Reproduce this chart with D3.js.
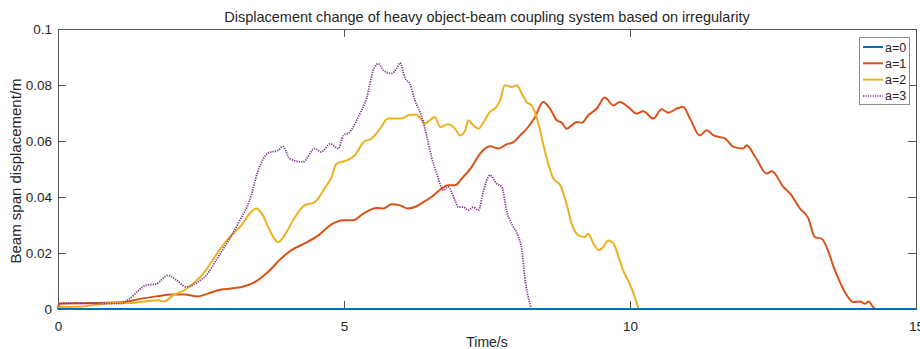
<!DOCTYPE html>
<html>
<head>
<meta charset="utf-8">
<script src="https://cdn.jsdelivr.net/npm/d3@7"></script>
<style>
  body { margin: 0; background: #fff; }
  text { font-family: "Liberation Sans", Arial, sans-serif; fill: #262626; }
</style>
</head>
<body>
<div id="chart"></div>
<script>
// series: [time (s), displacement (m)]
var a0 = [[0, 0], [15, 0]];

var a1 = [[0,0],[0.02,0.0019],[0.58,0.0021],[1.17,0.0025],[1.46,0.0037],[1.75,0.0046],[1.98,0.0052],[2.21,0.0052],
  [2.45,0.0045],[2.62,0.0055],[2.8,0.0067],[3.03,0.0073],[3.26,0.0081],[3.44,0.0096],[3.67,0.0132],[3.9,0.018],
  [4.08,0.021],[4.31,0.0234],[4.55,0.0263],[4.78,0.0302],[4.99,0.0317],[5.16,0.0317],[5.34,0.0341],[5.57,0.0361],
  [5.69,0.0359],[5.83,0.0374],[5.98,0.037],[6.12,0.0359],[6.27,0.0367],[6.39,0.0382],[6.53,0.04],[6.68,0.0426],
  [6.82,0.0442],[6.94,0.0442],[7.06,0.0466],[7.23,0.0507],[7.38,0.0555],[7.55,0.0581],[7.7,0.0573],[7.84,0.0588],
  [7.96,0.0596],[8.08,0.062],[8.22,0.065],[8.34,0.0686],[8.48,0.0739],[8.6,0.0716],[8.72,0.0674],[8.81,0.0665],
  [8.89,0.0644],[8.98,0.0656],[9.07,0.0668],[9.16,0.0665],[9.27,0.0692],[9.42,0.0716],[9.56,0.0755],[9.71,0.0727],
  [9.82,0.0739],[9.97,0.0721],[10.12,0.0698],[10.23,0.0706],[10.41,0.068],[10.55,0.0713],[10.67,0.0701],[10.82,0.0716],
  [10.93,0.0721],[11.05,0.068],[11.22,0.062],[11.34,0.0638],[11.46,0.062],[11.66,0.0609],[11.81,0.0579],[11.98,0.0573],
  [12.04,0.0585],[12.19,0.0543],[12.39,0.0484],[12.48,0.0492],[12.68,0.0436],[12.8,0.0412],[12.97,0.0359],[13.12,0.0323],
  [13.23,0.0257],[13.35,0.0251],[13.47,0.0204],[13.55,0.0156],[13.67,0.0096],[13.79,0.0049],[13.9,0.0025],[14.02,0.0027],
  [14.11,0.0019],[14.17,0.0027],[14.25,0.0007],[14.28,0]];

var a2 = [[0,0.0007],[0.35,0.0008],[0.7,0.0016],[0.99,0.0021],[1.22,0.0021],[1.52,0.0027],[1.75,0.0031],[1.86,0.0027],
  [2.01,0.0049],[2.21,0.0067],[2.39,0.0096],[2.56,0.0132],[2.74,0.0186],[2.91,0.0234],[3.09,0.0275],[3.23,0.0305],
  [3.35,0.0341],[3.47,0.0359],[3.58,0.0335],[3.7,0.0281],[3.85,0.0239],[3.96,0.0263],[4.11,0.0317],[4.31,0.037],
  [4.49,0.0382],[4.66,0.043],[4.78,0.047],[4.87,0.0519],[5.05,0.0531],[5.19,0.0549],[5.34,0.0596],[5.48,0.0609],
  [5.63,0.0644],[5.77,0.068],[5.92,0.068],[6.01,0.068],[6.15,0.0694],[6.27,0.0694],[6.42,0.0662],[6.5,0.0674],
  [6.59,0.0686],[6.68,0.065],[6.82,0.066],[6.94,0.0644],[7.03,0.062],[7.12,0.0638],[7.17,0.0674],[7.26,0.0656],
  [7.35,0.0644],[7.46,0.0674],[7.55,0.0704],[7.64,0.0716],[7.73,0.0745],[7.81,0.0799],[7.93,0.0793],[8.02,0.0799],
  [8.11,0.0769],[8.19,0.0739],[8.28,0.0727],[8.4,0.0662],[8.48,0.0591],[8.57,0.0519],[8.66,0.0466],[8.78,0.0442],
  [8.89,0.0376],[8.98,0.0305],[9.1,0.0263],[9.21,0.0257],[9.27,0.0269],[9.36,0.0234],[9.45,0.021],[9.53,0.0221],
  [9.62,0.0245],[9.71,0.0234],[9.8,0.0186],[9.88,0.0138],[9.97,0.01],[10.03,0.0073],[10.15,0]];

var a3 = [[0,0],[0.03,0.0021],[0.5,0.002],[1.1,0.0019],[1.25,0.0037],[1.54,0.0085],[1.72,0.009],[1.92,0.012],
  [2.07,0.0103],[2.24,0.0079],[2.45,0.0097],[2.59,0.012],[2.8,0.0186],[3.0,0.0251],[3.18,0.0317],[3.35,0.0388],
  [3.5,0.0495],[3.67,0.0557],[3.85,0.0567],[3.93,0.0581],[4.05,0.0537],[4.28,0.0525],[4.49,0.0573],[4.6,0.0561],
  [4.76,0.059],[4.9,0.0573],[4.99,0.062],[5.1,0.0632],[5.25,0.0686],[5.4,0.0757],[5.51,0.0852],[5.6,0.0876],
  [5.69,0.0852],[5.83,0.0841],[5.92,0.0859],[5.98,0.0879],[6.07,0.0823],[6.15,0.0805],[6.24,0.0745],[6.36,0.0686],
  [6.45,0.0614],[6.53,0.0543],[6.62,0.0484],[6.74,0.0424],[6.82,0.0436],[6.94,0.0388],[7.0,0.0364],[7.09,0.0364],
  [7.17,0.0353],[7.26,0.0364],[7.35,0.0353],[7.44,0.0424],[7.55,0.0478],[7.67,0.0448],[7.76,0.0436],[7.84,0.0353],
  [7.93,0.0305],[8.05,0.0257],[8.11,0.021],[8.16,0.0114],[8.25,0.0019],[8.28,0]];

var seriesNames = ["a=0", "a=1", "a=2", "a=3"];
var xTicks = [0, 5, 10, 15];
var yTicks = [0, 0.02, 0.04, 0.06, 0.08, 0.1];

var colors = ["#0072BD", "#D95319", "#EDB120", "#7E2F8E"];
var allSeries = [a0, a1, a2, a3];

var margin = { top: 29, right: 4, bottom: 40, left: 58 };
var width = 920 - margin.left - margin.right,
    height = 349 - margin.top - margin.bottom;

var svg = d3.select("#chart").append("svg")
    .attr("width", 920)
    .attr("height", 349)
    .append("g")
    .attr("transform", "translate(" + margin.left + "," + margin.top + ")");

var x = d3.scaleLinear().domain([0, 15]).range([0, width]);
var y = d3.scaleLinear().domain([0, 0.1]).range([height, 0]);

var axisColor = "#555";

// bottom axis, ticks pointing inward
var xAxis = d3.axisBottom(x).tickValues(xTicks).tickSize(-8).tickPadding(14)
    .tickFormat(d3.format("d"));
var yAxis = d3.axisLeft(y).tickValues(yTicks).tickSize(-8).tickPadding(14)
    .tickFormat(function(d) { return d === 0 ? "0" : d3.format("")(+d.toFixed(2)); });

var xG = svg.append("g")
    .attr("class", "axis x-axis")
    .attr("transform", "translate(0," + height + ")")
    .call(xAxis);
var yG = svg.append("g")
    .attr("class", "axis y-axis")
    .call(yAxis);

// top & right ticks (box on)
svg.append("g")
    .call(d3.axisTop(x).tickValues(xTicks).tickSize(-8).tickFormat(""));
svg.append("g")
    .attr("transform", "translate(" + width + ",0)")
    .call(d3.axisRight(y).tickValues(yTicks).tickSize(-8).tickFormat(""));

svg.selectAll(".domain").remove();
svg.selectAll(".tick line").attr("stroke", axisColor).attr("stroke-width", 1);
svg.selectAll(".tick text")
    .style("font-family", "'Liberation Sans', Arial, sans-serif")
    .style("font-size", "13.5px")
    .attr("fill", "#262626");
yG.selectAll(".tick text").attr("x", -6);
xG.selectAll(".tick text").attr("y", 12);

// lines
var lineFunction = d3.line()
    .curve(d3.curveMonotoneX)
    .x(function(d) { return x(d[0]); })
    .y(function(d) { return y(d[1]); });

svg.append("rect")
    .attr("width", width)
    .attr("height", height)
    .attr("fill", "none")
    .attr("stroke", axisColor)
    .attr("stroke-width", 1)
    .attr("shape-rendering", "crispEdges");

// draw a1..a3 first, a0 last so the zero line sits on top at the bottom edge
[1, 2, 3, 0].forEach(function(i) {
    var p = svg.append("path")
        .attr("d", lineFunction(allSeries[i]))
        .attr("fill", "none")
        .attr("stroke", colors[i])
        .attr("stroke-width", i === 3 ? 1.8 : 2)
        .attr("stroke-linejoin", "round");
    if (i === 3) p.attr("stroke-dasharray", "1.2,1.2");
});

// title and labels
svg.append("text")
    .attr("x", width / 2)
    .attr("y", -7)
    .attr("text-anchor", "middle")
    .style("font-size", "14.5px")
    .text("Displacement change of heavy object-beam coupling system based on irregularity");

svg.append("text")
    .attr("x", width / 2)
    .attr("y", height + 38)
    .attr("text-anchor", "middle")
    .style("font-size", "14px")
    .text("Time/s");

svg.append("text")
    .attr("transform", "translate(" + (-37) + "," + (height / 2 + 2) + ") rotate(-90)")
    .attr("text-anchor", "middle")
    .style("font-size", "15px")
    .text("Beam span displacement/m");

// legend
var legend = svg.append("g")
    .attr("transform", "translate(" + (width - 57) + ",8)");

legend.append("rect")
    .attr("width", 50)
    .attr("height", 67)
    .attr("fill", "#fff")
    .attr("stroke", "#8c8c8c")
    .attr("stroke-width", 1)
    .attr("shape-rendering", "crispEdges");

seriesNames.forEach(function(name, i) {
    var row = legend.append("g")
        .attr("transform", "translate(0," + (10 + i * 16.3) + ")");
    var l = row.append("line")
        .attr("x1", 4).attr("x2", 24)
        .attr("stroke", colors[i])
        .attr("stroke-width", i === 3 ? 1.5 : 2);
    if (i === 3) l.attr("stroke-dasharray", "1.2,1.2");
    row.append("text")
        .attr("x", 26)
        .attr("y", 4.5)
        .style("font-size", "12.5px")
        .text(name);
});
</script>
</body>
</html>
